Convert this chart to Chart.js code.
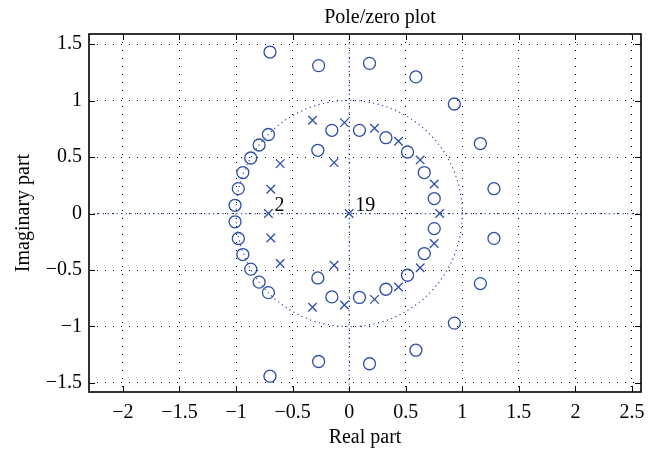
<!DOCTYPE html>
<html>
<head>
<meta charset="utf-8">
<script src="https://cdn.jsdelivr.net/npm/chart.js@4.4.0/dist/chart.umd.min.js"></script>
<style>
  html, body { margin: 0; padding: 0; background: #fff; }
</style>
</head>
<body>
<canvas id="pz" width="658" height="455"></canvas>
<script>
// zeros (o)
const zeroRe = [-0.70, -0.27, 0.18, 0.59, 0.93, 1.16, 1.28,
                -0.70, -0.27, 0.18, 0.59, 0.93, 1.16, 1.28,
                -0.714, -0.796, -0.87, -0.94, -0.98, -1.009,
                -0.714, -0.796, -0.87, -0.94, -0.98, -1.009,
                -0.277, -0.153, 0.091, 0.325, 0.516, 0.664, 0.752,
                -0.277, -0.153, 0.091, 0.325, 0.516, 0.664, 0.752];
const zeroIm = [1.43, 1.31, 1.33, 1.21, 0.97, 0.62, 0.22,
                -1.44, -1.31, -1.33, -1.21, -0.97, -0.62, -0.22,
                0.70, 0.607, 0.492, 0.363, 0.221, 0.073,
                -0.70, -0.607, -0.492, -0.363, -0.221, -0.073,
                0.56, 0.737, 0.737, 0.672, 0.545, 0.363, 0.133,
                -0.57, -0.738, -0.743, -0.67, -0.546, -0.354, -0.133];

// poles (x)
const poleRe = [-0.324, -0.042, 0.224, 0.436, 0.628, 0.752,
                -0.324, -0.042, 0.224, 0.436, 0.628, 0.752,
                -0.133, -0.61, -0.693, -0.133, -0.61, -0.693,
                0.80, -0.714, 0];
const poleIm = [0.826, 0.805, 0.755, 0.64, 0.475, 0.262,
                -0.83, -0.81, -0.76, -0.65, -0.48, -0.265,
                0.451, 0.442, 0.215, -0.457, -0.442, -0.216,
                0, 0, 0];

// multiplicity labels
const multRe = [-0.714, 0];
const multIm = [0, 0];
const multText = ['2', '19'];

const xTickValues = [-2, -1.5, -1, -0.5, 0, 0.5, 1, 1.5, 2, 2.5];
const yTickValues = [-1.5, -1, -0.5, 0, 0.5, 1, 1.5];

const blue = '#2d4ea8';
const serif = "'Liberation Serif', 'DejaVu Serif', serif";
Chart.defaults.font.family = serif;
Chart.defaults.color = '#000';

function fmt(v) {
    return v < 0 ? '\u2212' + Math.abs(v) : String(v);
}

// unit circle, axes, box, inward ticks, title, multiplicity labels
const zplanePlugin = {
    id: 'zplane',
    beforeDatasetsDraw(chart) {
        const { ctx, chartArea: a, scales: { x, y } } = chart;
        const cx = x.getPixelForValue(0), cy = y.getPixelForValue(0);
        const r = x.getPixelForValue(1) - cx;
        ctx.save();
        ctx.beginPath();
        ctx.rect(a.left, a.top, a.right - a.left, a.bottom - a.top);
        ctx.clip();
        ctx.strokeStyle = blue;
        ctx.lineWidth = 1.2;
        ctx.setLineDash([1.2, 3.4]);
        ctx.beginPath();
        ctx.arc(cx, cy, r, 0, Math.PI * 2);
        ctx.stroke();
        ctx.beginPath();
        ctx.moveTo(a.left, cy); ctx.lineTo(a.right, cy);
        ctx.moveTo(cx, a.top); ctx.lineTo(cx, a.bottom);
        ctx.stroke();
        ctx.restore();
    },
    afterDraw(chart) {
        const { ctx, chartArea: a, scales: { x, y } } = chart;
        ctx.save();
        ctx.strokeStyle = '#000';
        ctx.lineWidth = 1;
        ctx.beginPath();
        xTickValues.forEach(v => {
            const px = Math.round(x.getPixelForValue(v)) + 0.5;
            ctx.moveTo(px, a.bottom); ctx.lineTo(px, a.bottom - 6);
            ctx.moveTo(px, a.top); ctx.lineTo(px, a.top + 6);
        });
        yTickValues.forEach(v => {
            const py = Math.round(y.getPixelForValue(v)) + 0.5;
            ctx.moveTo(a.left, py); ctx.lineTo(a.left + 6, py);
            ctx.moveTo(a.right, py); ctx.lineTo(a.right - 6, py);
        });
        ctx.stroke();
        ctx.lineWidth = 1.6;
        ctx.strokeRect(a.left, a.top, a.right - a.left, a.bottom - a.top);

        ctx.fillStyle = '#000';
        ctx.font = '20px ' + serif;
        ctx.textAlign = 'center';
        ctx.textBaseline = 'alphabetic';
        ctx.fillText('Pole/zero plot', 380, 23);

        ctx.textAlign = 'left';
        multText.forEach((t, i) => {
            const px = x.getPixelForValue(multRe[i]);
            const py = y.getPixelForValue(multIm[i]);
            ctx.fillText(t, px + 6, py - 3);
        });
        ctx.restore();
    }
};

new Chart(document.getElementById('pz'), {
    type: 'scatter',
    data: {
        datasets: [
            {
                label: 'Zeros',
                data: zeroRe.map((re, i) => ({ x: re, y: zeroIm[i] })),
                pointStyle: 'circle',
                pointRadius: 6,
                pointBorderWidth: 1.3,
                pointBorderColor: blue,
                pointBackgroundColor: 'rgba(0,0,0,0)'
            },
            {
                label: 'Poles',
                data: poleRe.map((re, i) => ({ x: re, y: poleIm[i] })),
                pointStyle: 'crossRot',
                pointRadius: 6,
                pointBorderWidth: 1.3,
                pointBorderColor: blue,
                pointBackgroundColor: blue
            }
        ]
    },
    options: {
        responsive: false,
        animation: false,
        devicePixelRatio: 1,
        layout: { padding: { top: 34, right: 17, left: 0, bottom: 0 } },
        plugins: {
            legend: { display: false },
            tooltip: { enabled: false },
            title: { display: false }
        },
        scales: {
            x: {
                type: 'linear',
                min: -2.3,
                max: 2.58,
                afterBuildTicks: axis => { axis.ticks = xTickValues.map(v => ({ value: v })); },
                afterFit: axis => { axis.height = 63; },
                ticks: {
                    callback: v => fmt(v),
                    font: { size: 20 },
                    padding: 9,
                    maxRotation: 0
                },
                grid: { color: '#000', lineWidth: 1, drawTicks: false },
                border: { display: false, dash: [1, 7] },
                title: {
                    display: true,
                    text: 'Real part',
                    font: { size: 20 },
                    padding: { top: 0, bottom: 5 }
                }
            },
            y: {
                type: 'linear',
                min: -1.58,
                max: 1.59,
                afterBuildTicks: axis => { axis.ticks = yTickValues.map(v => ({ value: v })); },
                afterFit: axis => { axis.width = 89; },
                ticks: {
                    callback: v => fmt(v),
                    font: { size: 20 },
                    padding: 7
                },
                grid: { color: '#000', lineWidth: 1, drawTicks: false },
                border: { display: false, dash: [1, 7] },
                title: {
                    display: true,
                    text: 'Imaginary part',
                    font: { size: 20 },
                    padding: { top: 12, bottom: 0 }
                }
            }
        }
    },
    plugins: [zplanePlugin]
});
</script>
</body>
</html>
